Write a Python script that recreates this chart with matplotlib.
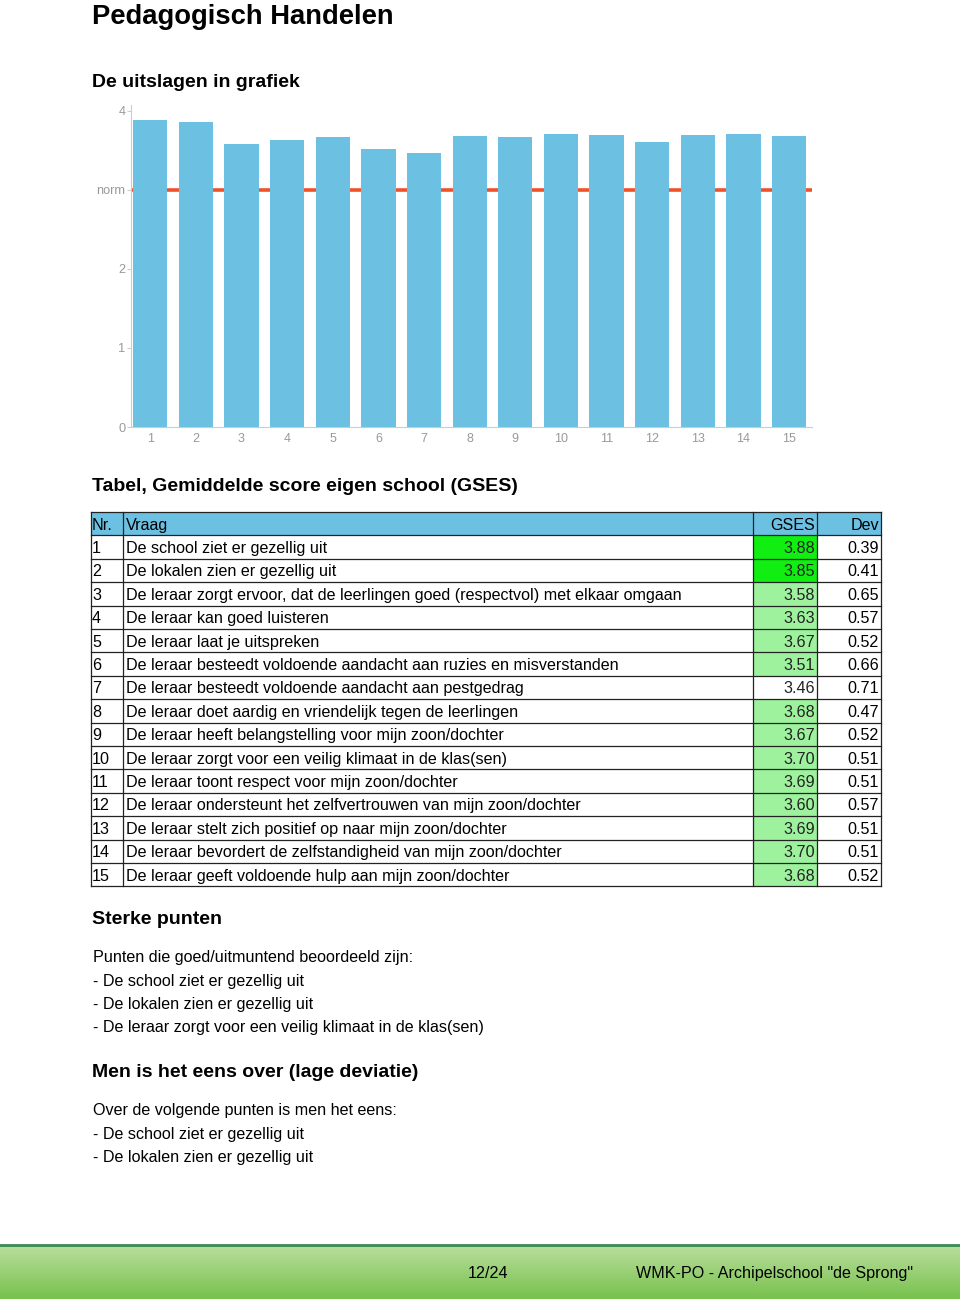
import numpy as np
import matplotlib
matplotlib.use("Agg")
import matplotlib.pyplot as plt
from matplotlib.patches import Rectangle

plt.rcParams['font.family'] = ['Liberation Sans', 'DejaVu Sans']

# Data
nrs = list(range(1, 16))
vragen = [
    "De school ziet er gezellig uit",
    "De lokalen zien er gezellig uit",
    "De leraar zorgt ervoor, dat de leerlingen goed (respectvol) met elkaar omgaan",
    "De leraar kan goed luisteren",
    "De leraar laat je uitspreken",
    "De leraar besteedt voldoende aandacht aan ruzies en misverstanden",
    "De leraar besteedt voldoende aandacht aan pestgedrag",
    "De leraar doet aardig en vriendelijk tegen de leerlingen",
    "De leraar heeft belangstelling voor mijn zoon/dochter",
    "De leraar zorgt voor een veilig klimaat in de klas(sen)",
    "De leraar toont respect voor mijn zoon/dochter",
    "De leraar ondersteunt het zelfvertrouwen van mijn zoon/dochter",
    "De leraar stelt zich positief op naar mijn zoon/dochter",
    "De leraar bevordert de zelfstandigheid van mijn zoon/dochter",
    "De leraar geeft voldoende hulp aan mijn zoon/dochter",
]
gses = [3.88, 3.85, 3.58, 3.63, 3.67, 3.51, 3.46, 3.68, 3.67, 3.70, 3.69, 3.60, 3.69, 3.70, 3.68]
dev = [0.39, 0.41, 0.65, 0.57, 0.52, 0.66, 0.71, 0.47, 0.52, 0.51, 0.51, 0.57, 0.51, 0.51, 0.52]
norm = 3.0
ytick_vals = [0, 1, 2, 3, 4]
ytick_labels = ["0", "1", "2", "norm", "4"]

sterke = ["De school ziet er gezellig uit",
          "De lokalen zien er gezellig uit",
          "De leraar zorgt voor een veilig klimaat in de klas(sen)"]
eens = ["De school ziet er gezellig uit",
        "De lokalen zien er gezellig uit"]

W, H = 960, 1299
fig = plt.figure(figsize=(W / 100, H / 100), dpi=100)

# page axes in pixel coordinates
page = fig.add_axes([0, 0, 1, 1])
page.set_xlim(0, W)
page.set_ylim(H, 0)
page.axis('off')

bar_color = '#6cc0e2'
grey = '#999999'

# ---- chart ----
top_px, bot_px, left_px, right_px = 105, 427, 131, 812
ax = fig.add_axes([left_px / W, (H - bot_px) / H, (right_px - left_px) / W, (bot_px - top_px) / H])
ax.bar(nrs, gses, width=0.75, color=bar_color, zorder=3)
ax.axhline(norm, color='#f0502a', lw=2.6, zorder=2)
ax.set_xlim(0.58, 15.5)
ax.set_ylim(0, 4.07)
ax.set_xticks(nrs)
ax.set_xticklabels([str(n) for n in nrs])
ax.set_yticks(ytick_vals)
ax.set_yticklabels(ytick_labels)
for s in ['top', 'right']:
    ax.spines[s].set_visible(False)
for s in ['left', 'bottom']:
    ax.spines[s].set_color('#cccccc')
    ax.spines[s].set_linewidth(0.8)
ax.tick_params(axis='x', length=0, colors=grey, labelsize=9, pad=4)
ax.tick_params(axis='y', length=3, color='#cccccc', labelcolor=grey, labelsize=9.2, pad=1)
ax.set_facecolor('none')

# ---- headings ----
page.text(92, 24, "Pedagogisch Handelen", fontsize=19.7, fontweight='bold', va='baseline')
page.text(92, 87, "De uitslagen in grafiek", fontsize=14, fontweight='bold', va='baseline')
page.text(92, 491, "Tabel, Gemiddelde score eigen school (GSES)", fontsize=14, fontweight='bold', va='baseline')

# ---- table ----
cols = [91, 123, 753, 817, 881]
t_top = 512
rh = 23.4
fs = 11.6
n_rows = len(vragen) + 1

page.add_patch(Rectangle((cols[0], t_top), cols[-1] - cols[0], rh, facecolor=bar_color, edgecolor='none'))
for i, v in enumerate(gses):
    if v >= 3.8:
        c = '#11ee11'
    elif v >= 3.5:
        c = '#9ef29e'
    else:
        c = 'white'
    page.add_patch(Rectangle((cols[2], t_top + rh * (i + 1)), cols[3] - cols[2], rh, facecolor=c, edgecolor='none'))

for r in range(n_rows + 1):
    y = t_top + rh * r
    page.plot([cols[0], cols[-1]], [y, y], color='#222222', lw=0.9)
for x in cols:
    page.plot([x, x], [t_top, t_top + rh * n_rows], color='#222222', lw=0.9)

def base(r):
    return t_top + rh * r + 17.5

page.text(cols[0] + 1, base(0), "Nr.", fontsize=fs, va='baseline')
page.text(cols[1] + 3, base(0), "Vraag", fontsize=fs, va='baseline')
page.text(cols[3] - 2, base(0), "GSES", fontsize=fs, va='baseline', ha='right')
page.text(cols[4] - 2, base(0), "Dev", fontsize=fs, va='baseline', ha='right')
for i in range(len(vragen)):
    b = base(i + 1)
    page.text(cols[0] + 1, b, str(nrs[i]), fontsize=fs, va='baseline')
    page.text(cols[1] + 3, b, vragen[i], fontsize=fs, va='baseline')
    page.text(cols[3] - 2, b, f"{gses[i]:.2f}", fontsize=fs, va='baseline', ha='right', color='#222222')
    page.text(cols[4] - 2, b, f"{dev[i]:.2f}", fontsize=fs, va='baseline', ha='right')

# ---- text blocks ----
page.text(92, 924, "Sterke punten", fontsize=14, fontweight='bold', va='baseline')
page.text(93, 962, "Punten die goed/uitmuntend beoordeeld zijn:", fontsize=fs, va='baseline')
for k, s in enumerate(sterke):
    page.text(93, 985.5 + 23.4 * k, "- " + s, fontsize=fs, va='baseline')

page.text(92, 1077, "Men is het eens over (lage deviatie)", fontsize=14, fontweight='bold', va='baseline')
page.text(93, 1115, "Over de volgende punten is men het eens:", fontsize=fs, va='baseline')
for k, s in enumerate(eens):
    page.text(93, 1138.5 + 23.4 * k, "- " + s, fontsize=fs, va='baseline')

# ---- footer ----
grad = np.linspace(0, 1, 64)[:, None]
top_c = np.array([0.73, 0.87, 0.62])
bot_c = np.array([0.47, 0.76, 0.30])
img = top_c[None, None, :] * (1 - grad[:, :, None]) + bot_c[None, None, :] * grad[:, :, None]
img = np.repeat(img, 2, axis=1)
page.imshow(img, extent=[0, W, H, 1245], aspect='auto', zorder=1)
page.plot([0, W], [1245, 1245], color='#3b8a52', lw=2, zorder=2)
page.set_xlim(0, W)
page.set_ylim(H, 0)
ffam = ['Liberation Sans Narrow', 'Liberation Sans', 'DejaVu Sans']
page.text(488, 1278, "12/24", fontsize=11.6, va='baseline', ha='center', family=ffam, zorder=3)
page.text(913, 1278, 'WMK-PO - Archipelschool "de Sprong"', fontsize=11.6, va='baseline', ha='right', family=ffam, zorder=3)

fig.savefig("out.png", dpi=100)
